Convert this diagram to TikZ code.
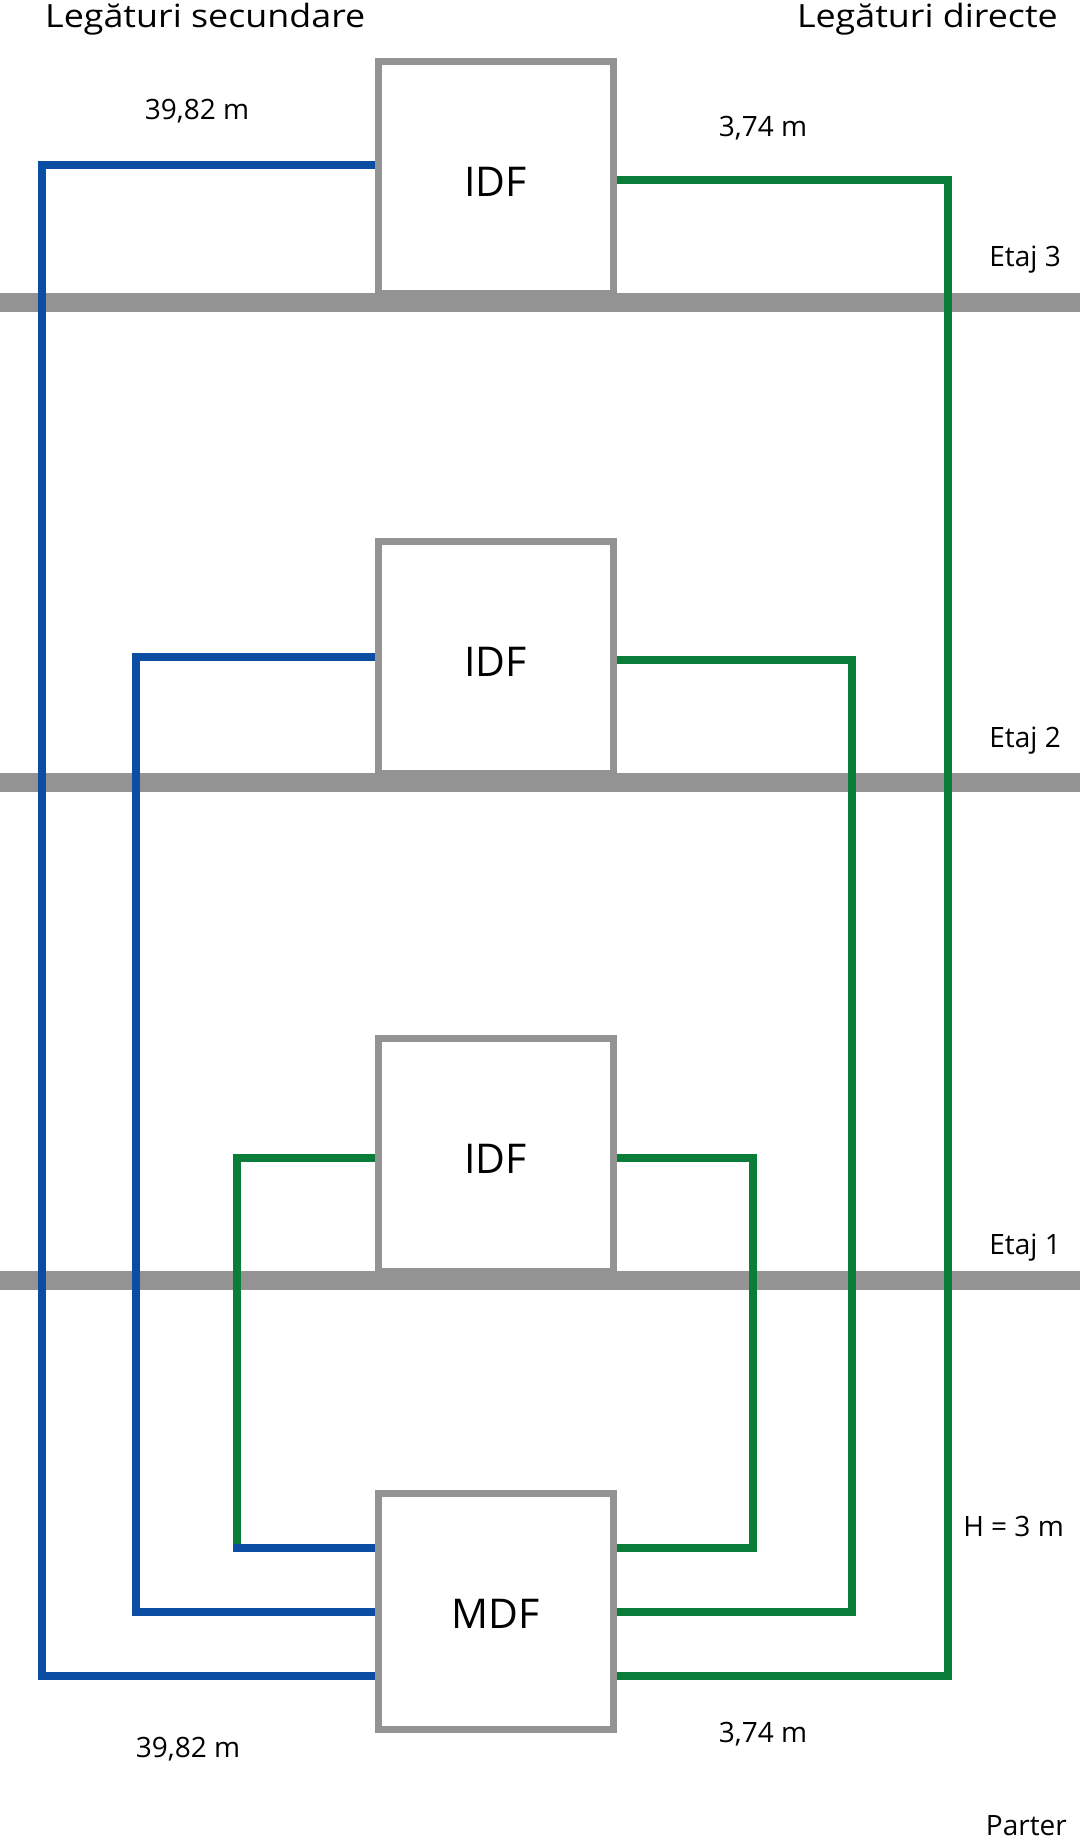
\documentclass[tikz,border=0pt]{standalone}
\usepackage{fontspec}
\setmainfont{Open Sans}
\newfontfamily\widefont[FakeStretch=1.12]{Open Sans}
\definecolor{cblue}{HTML}{0B4DA2}
\definecolor{cgreen}{HTML}{0A7D3A}
\definecolor{cgray}{HTML}{939393}
\begin{document}
\begin{tikzpicture}[x=1pt,y=-1pt,
  box/.style={draw=cgray,line width=7pt,fill=white,minimum width=235pt,inner sep=0pt,font=\fontsize{41}{44}\selectfont,text height=38.5pt,text depth=0pt},
  floorline/.style={draw=cgray,line width=19pt},
  bl/.style={draw=cblue,line width=8.5pt,line join=miter},
  gl/.style={draw=cgreen,line width=8.5pt,line join=miter},
  lbl/.style={font=\fontsize{28}{32}\selectfont,inner sep=0pt},
  ttl/.style={font=\widefont\fontsize{32}{36}\selectfont,inner sep=0pt}]
\useasboundingbox[fill=white] (0,0) rectangle (1080,1840);
% boxes
\node[box,minimum height=232pt] (idf3) at (495.5,177) {IDF};
\node[box,minimum height=232pt] (idf2) at (495.5,657) {IDF};
\node[box,minimum height=233pt] (idf1) at (495.5,1154.5) {IDF};
\node[box,minimum height=236pt,text height=34.5pt] (mdf) at (495.5,1611) {MDF};
% floors
\coordinate (f3l) at (0,302); \coordinate (f3r) at (1080,302);
\coordinate (f2l) at (0,782); \coordinate (f2r) at (1080,782);
\coordinate (f1l) at (0,1280); \coordinate (f1r) at (1080,1280);
\draw[floorline] (f3l) -- (f3r);
\draw[floorline] (f2l) -- (f2r);
\draw[floorline] (f1l) -- (f1r);
% outer loop
\draw[bl] ([yshift=12pt]idf3.west) -| (42,1676) -- ([yshift=-65pt]mdf.west);
\draw[gl] ([yshift=-3pt]idf3.east) -| (948,1676) -- ([yshift=-65pt]mdf.east);
% middle loop
\draw[bl] (idf2.west) -| (136,1612) -- ([yshift=-1pt]mdf.west);
\draw[gl] ([yshift=-3pt]idf2.east) -| (852,1612) -- ([yshift=-1pt]mdf.east);
% inner loop
\coordinate (ci) at (237,1548);
\draw[gl] ([yshift=-3.5pt]idf1.west) -| (ci);
\draw[bl] ([xshift=-4.25pt]ci) -- ([yshift=63pt]mdf.west);
\draw[gl] ([yshift=-3.5pt]idf1.east) -| (753,1548) -- ([yshift=63pt]mdf.west -| mdf.east);
% titles
\node[ttl,anchor=base west] (t1) at (45,27) {Legături secundare};
\node[ttl,anchor=base east] (t2) at (1058,27) {Legături directe};
% labels
\node[lbl] (l1) at (197,111.5) {39,82 m};
\node[lbl] (l2) at (763,128.5) {3,74 m};
\node[lbl,anchor=east] (e3) at (1061,259.5) {Etaj 3};
\node[lbl,anchor=east] (e2) at (1061,740.5) {Etaj 2};
\node[lbl,anchor=east] (e1) at (1061,1247.5) {Etaj 1};
\node[lbl,anchor=east] (h) at (1064,1526) {H = 3 m};
\node[lbl] (l3) at (188,1749) {39,82 m};
\node[lbl] (l4) at (763,1734) {3,74 m};
\node[lbl,anchor=east] (p) at (1067,1826) {Parter};
\end{tikzpicture}
\end{document}
